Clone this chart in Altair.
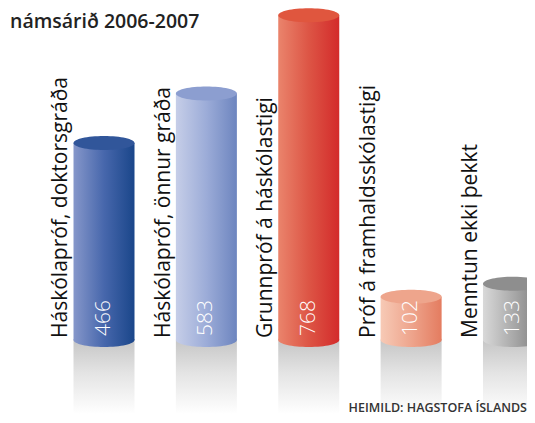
import altair as alt
import pandas as pd

title_text = "námsárið 2006-2007"
source_text = "HEIMILD: HAGSTOFA ÍSLANDS"
categories = [
    "Háskólapróf, doktorsgráða",
    "Háskólapróf, önnur gráða",
    "Grunnpróf á háskólastigi",
    "Próf á framhaldsskólastigi",
    "Menntun ekki þekkt",
]
values = [466, 583, 768, 102, 133]

# style: (left, middle, right, top ellipse)
palette = [
    ("#8697ca", "#4767ac", "#1a468a", "#31569a"),
    ("#c6cee8", "#9cacd8", "#6d85bf", "#8c9ed0"),
    ("#ea846c", "#dd5545", "#d32b2b", "#e0563e"),
    ("#f7cab6", "#eea58d", "#e47c60", "#eea58c"),
    ("#d9d9d9", "#a9a9a9", "#777777", "#8e8e8e"),
]

df = pd.DataFrame({"idx": list(range(len(values))), "cat": categories, "val": values})

W, H = 519, 332
HW = 0.298
ELL = "M-1,0A1,0.23,0,1,1,1,0A1,0.23,0,1,1,-1,0Z"
ELL_SIZE = 61 * 61
FONT = "Open Sans"

xs = alt.Scale(domain=[-0.9378, 4.1320], nice=False, zero=False)
ys = alt.Scale(domain=[0, 785], nice=False, zero=True)


def hgrad(stops):
    n = len(stops) - 1
    return alt.Gradient(
        gradient="linear", x1=0, x2=1, y1=0, y2=0,
        stops=[alt.GradientStop(offset=k / n, color=c) for k, c in enumerate(stops)],
    )


refl_grad = alt.Gradient(
    gradient="linear", x1=0, x2=0, y1=0, y2=1,
    stops=[
        alt.GradientStop(offset=0, color="#c6c6c6"),
        alt.GradientStop(offset=0.45, color="#e4e4e4"),
        alt.GradientStop(offset=1, color="#ffffff"),
    ],
)

base = alt.Chart(df).transform_calculate(
    x0=f"datum.idx - {HW}", x1=f"datum.idx + {HW}", zero="0", refl="-175"
)

layers = []
for i, (cl, cm, cr, ct) in enumerate(palette):
    b = base.transform_filter(f"datum.idx == {i}")
    refl = b.mark_rect(fill=refl_grad).encode(
        x=alt.X("x0:Q", scale=xs, axis=None),
        x2="x1:Q",
        y=alt.Y("zero:Q", scale=ys, axis=None),
        y2="refl:Q",
    )
    body = b.mark_rect(fill=hgrad([cl, cm, cr])).encode(
        x=alt.X("x0:Q", scale=xs, axis=None),
        x2="x1:Q",
        y=alt.Y("val:Q", scale=ys, axis=None),
        y2="zero:Q",
    )
    bottom = b.mark_point(
        shape=ELL, size=ELL_SIZE, filled=True, fill=hgrad([cl, cm, cr]),
        opacity=1, strokeWidth=0,
    ).encode(
        x=alt.X("idx:Q", scale=xs, axis=None),
        y=alt.Y("zero:Q", scale=ys, axis=None),
    )
    top = b.mark_point(
        shape=ELL, size=ELL_SIZE, filled=True, fill=ct, opacity=1, strokeWidth=0,
    ).encode(
        x=alt.X("idx:Q", scale=xs, axis=None),
        y=alt.Y("val:Q", scale=ys, axis=None),
    )
    layers += [refl, body, bottom, top]

vals = base.mark_text(
    angle=270, align="left", baseline="middle", dx=4, font=FONT, fontSize=21,
    fontWeight=300, fill="white",
).encode(
    x=alt.X("idx:Q", scale=xs, axis=None),
    y=alt.Y("zero:Q", scale=ys, axis=None),
    text="val:Q",
)

labels = base.mark_text(
    angle=270, align="left", baseline="alphabetic", dx=2, dy=-6, font=FONT,
    fontSize=21, fill="#111111",
).encode(
    x=alt.X("x0:Q", scale=xs, axis=None),
    y=alt.Y("zero:Q", scale=ys, axis=None),
    text="cat:N",
)

title = alt.Chart(pd.DataFrame({"t": [title_text]})).mark_text(
    align="left", baseline="alphabetic", font=FONT, fontSize=19.5, fontWeight=600,
    fill="#222222",
).encode(x=alt.value(2), y=alt.value(20), text="t:N")

source = alt.Chart(pd.DataFrame({"t": [source_text]})).mark_text(
    align="right", baseline="alphabetic", font=FONT, fontSize=12.5, fontWeight=600,
    fill="#333333",
).encode(x=alt.value(519), y=alt.value(404), text="t:N")

chart = alt.layer(*layers, vals, labels, title, source).properties(
    width=W, height=H,
    autosize=alt.AutoSizeParams(type="none"),
    padding={"left": 0, "top": 0, "right": 0, "bottom": 75},
    background="white",
).configure_view(stroke=None)

chart.save("out.html", embed_options={"renderer": "svg", "actions": False})
